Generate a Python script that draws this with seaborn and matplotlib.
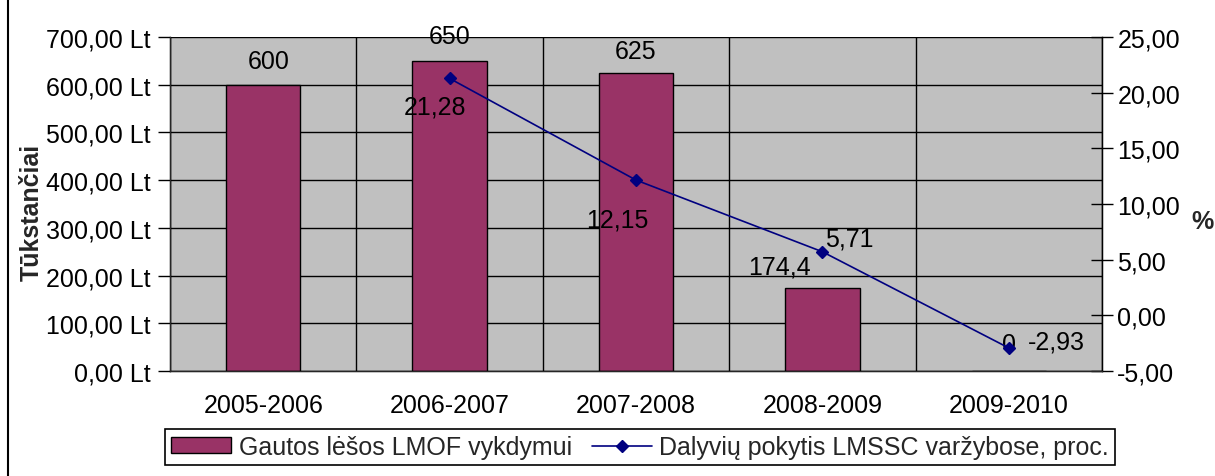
import numpy as np
import pandas as pd
import matplotlib.pyplot as plt
import seaborn as sns
from matplotlib.patches import Rectangle, Patch
from matplotlib.lines import Line2D
from matplotlib.ticker import FuncFormatter, MultipleLocator

# data
seasons = ["2005-2006", "2006-2007", "2007-2008", "2008-2009", "2009-2010"]
funds = [600, 650, 625, 174.4, 0]
fund_labels = ["600", "650", "625", "174,4", "0"]
change_seasons = ["2006-2007", "2007-2008", "2008-2009", "2009-2010"]
change_pct = [21.28, 12.15, 5.71, -2.93]
change_labels = ["21,28", "12,15", "5,71", "-2,93"]

bar_col = "#993366"
line_col = "#000080"

sns.set_style("white")
plt.rcParams["font.family"] = ["Liberation Sans", "DejaVu Sans"]
plt.rcParams["font.size"] = 18

df = pd.DataFrame({"season": seasons, "funds": funds})

W, H = 1215, 477
fig = plt.figure(figsize=(W / 100, H / 100), dpi=100)
ax = fig.add_axes([170 / W, 1 - 372 / H, (1102 - 170) / W, (372 - 38) / H])

sns.barplot(data=df, x="season", y="funds", order=seasons, color=bar_col,
            saturation=1, width=0.4, edgecolor="black", linewidth=1, ax=ax)
ax.set_facecolor("#c0c0c0")
ax.set_xlim(-0.5, 4.5)
ax.set_ylim(0, 700)
ax.set_xlabel("")
ax.set_ylabel("")
ax.yaxis.set_major_locator(MultipleLocator(100))
ax.yaxis.set_major_formatter(FuncFormatter(lambda v, p: f"{v:.2f} Lt".replace(".", ",")))
ax.set_xticks(np.arange(-0.5, 5, 1), minor=True)
ax.tick_params(axis="x", which="major", length=0, pad=16, colors="black")
ax.tick_params(axis="x", which="minor", length=7, width=1, direction="out", color="black")
ax.tick_params(axis="y", length=9, width=1, direction="out", color="black",
               labelcolor="black", pad=5)
ax.grid(which="minor", axis="x", color="black", lw=1)
ax.grid(which="major", axis="y", color="black", lw=1)
ax.set_axisbelow(True)
ax.spines["top"].set_visible(False)
for s in ["left", "bottom", "right"]:
    ax.spines[s].set_color("black")
    ax.spines[s].set_linewidth(1)

# bar value labels
bar_off = [(5, 24), (0, 25), (0, 22), (-43, 21), (0, 27)]
for i, (v, lab) in enumerate(zip(funds, fund_labels)):
    ax.annotate(lab, (i, v), xytext=bar_off[i], textcoords="offset pixels",
                ha="center", va="center", color="black")

ax2 = ax.twinx()
xs = [seasons.index(s) for s in change_seasons]
ax2.plot(xs, change_pct, color=line_col, marker="D", markersize=6, lw=1.2)
ax2.set_ylim(-5, 25)
ax2.yaxis.set_major_locator(MultipleLocator(5))
ax2.yaxis.set_major_formatter(FuncFormatter(lambda v, p: f"{v:.2f}".replace(".", ",")))
ax2.tick_params(axis="y", length=16, width=1, direction="inout", color="black",
                labelcolor="black", pad=3)
ax2.spines["top"].set_visible(False)
ax2.spines["right"].set_color("black")

line_off = [(-15, -28), (-19, -39), (27, 13), (48, 6)]
for x, v, lab, off in zip(xs, change_pct, change_labels, line_off):
    ax2.annotate(lab, (x, v), xytext=off, textcoords="offset pixels",
                 ha="center", va="center", color="black")

fig.text(32 / W, 1 - 212 / H, "Tūkstančiai", rotation=90, ha="center", va="center",
         fontweight="bold", fontsize=18)
fig.text(1202 / W, 1 - 222 / H, "%", ha="center", va="center", fontweight="bold", fontsize=18)

handles = [Patch(facecolor=bar_col, edgecolor="black", lw=1),
           Line2D([], [], color=line_col, marker="D", markersize=6, lw=1.2)]
labels = ["Gautos lėšos LMOF vykdymui", "Dalyvių pokytis LMSSC varžybose, proc."]
leg = fig.legend(handles, labels, loc="center", bbox_to_anchor=(640 / W, 1 - 448 / H),
                 ncol=2, frameon=True, fancybox=False, edgecolor="black", framealpha=1,
                 borderpad=0.25, columnspacing=0.8, handlelength=2.4, handletextpad=0.3,
                 handleheight=0.6)
leg.get_frame().set_linewidth(1.2)

# outer chart frame (cut off at right and bottom)
fig.add_artist(Rectangle((8 / W, -0.2), 1.2, 1.2 + 1 - 11 / H, transform=fig.transFigure,
                         fill=False, lw=1.5, edgecolor="black"))

fig.savefig("out.png", dpi=100)
